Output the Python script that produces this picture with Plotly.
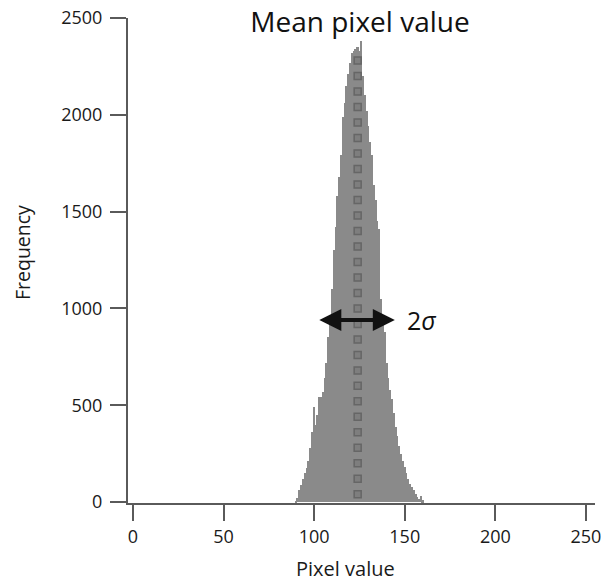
import plotly.graph_objects as go

# Histogram data (pixel value bins, frequency)
pixel_values = list(range(90, 161))
frequency = [
    5, 20, 60, 90, 120, 150, 175, 210, 280, 360,             # 90-99
    490, 400, 450, 545, 545, 570, 640, 720, 850, 960,        # 100-109
    1100, 1300, 1420, 1580, 1680, 1790, 1990, 2060, 2150, 2210,  # 110-119
    2270, 2320, 2330, 2340, 2350, 2330, 2380, 2200, 2100, 2020,  # 120-129
    1940, 1860, 1790, 1640, 1560, 1450, 1410, 1050, 950, 880,    # 130-139
    720, 640, 580, 530, 460, 390, 340, 290, 250, 210,        # 140-149
    180, 150, 120, 95, 78, 60, 40, 25, 15, 30,               # 150-159
    10,                                                      # 160
]

# Column of square markers at the mean
mean_x = 124
mean_marker_y = [40, 120, 200, 280, 360, 440, 520, 600, 680, 760, 840, 920,
                 1000, 1080, 1160, 1240, 1320, 1400, 1480, 1560, 1640, 1720,
                 1800, 1880, 1960, 2040, 2120, 2200, 2280]

# 2-sigma arrow
sigma_left = 102
sigma_right = 144.5
sigma_y = 940

x_ticks = [0, 50, 100, 150, 200, 250]
y_ticks = [0, 500, 1000, 1500, 2000, 2500]

FONT = "Open Sans"
AXIS_COLOR = "#5a5a5a"
TEXT_COLOR = "#1a1a1a"

fig = go.Figure()
fig.add_trace(go.Bar(
    x=pixel_values, y=frequency, width=1,
    marker=dict(color="#8a8a8a", line=dict(width=0)),
    showlegend=False, hoverinfo="skip",
))
fig.add_trace(go.Scatter(
    x=[mean_x] * len(mean_marker_y), y=mean_marker_y, mode="markers",
    marker=dict(symbol="square", size=7, color="#7e7e7e",
                line=dict(color="#666666", width=1.5)),
    showlegend=False, hoverinfo="skip",
))

fig.add_annotation(
    x=sigma_right, y=sigma_y, ax=sigma_left, ay=sigma_y,
    xref="x", yref="y", axref="x", ayref="y",
    text="", showarrow=True, arrowhead=2, startarrowhead=2,
    arrowside="end+start", arrowwidth=4, arrowsize=1.1, startarrowsize=1.1,
    arrowcolor="#111111",
)
fig.add_annotation(
    x=sigma_right + 5.5, y=sigma_y, xref="x", yref="y",
    text="2<i>σ</i>", showarrow=False, xanchor="left", yanchor="middle",
    font=dict(family=FONT, size=25, color="#111111"),
)

# Axis titles as annotations
fig.add_annotation(
    x=(345 - 128) / 467, y=-(568 - 503) / 485, xref="paper", yref="paper",
    text="Pixel value", showarrow=False, xanchor="center", yanchor="middle",
    borderpad=0, font=dict(family=FONT, size=20, color=TEXT_COLOR),
)
fig.add_annotation(
    x=-(128 - 22) / 467, y=(503 - 253) / 485, xref="paper", yref="paper",
    text="Frequency", showarrow=False, textangle=-90,
    xanchor="center", yanchor="middle", borderpad=0,
    font=dict(family=FONT, size=19.5, color=TEXT_COLOR),
)

fig.update_layout(
    width=605, height=582,
    margin=dict(l=128, r=10, t=18, b=79, autoexpand=False),
    paper_bgcolor="white", plot_bgcolor="white",
    bargap=0,
    title=dict(text="Mean pixel value", x=360 / 605, xanchor="center",
               y=1 - 22 / 582, yanchor="middle",
               font=dict(family=FONT, size=28, color="#111111")),
    xaxis=dict(
        range=[-2.76, 255], tickvals=x_ticks, ticks="outside", ticklen=16,
        tickwidth=2, tickcolor=AXIS_COLOR, showline=True, linecolor=AXIS_COLOR,
        linewidth=2, showgrid=False, zeroline=False, automargin=False,
        tickfont=dict(family=FONT, size=18, color=TEXT_COLOR),
    ),
    yaxis=dict(
        range=[-5, 2500], tickvals=y_ticks, ticks="outside", ticklen=16,
        tickwidth=2, tickcolor=AXIS_COLOR, showline=True, linecolor=AXIS_COLOR,
        linewidth=2, showgrid=False, zeroline=False, automargin=False,
        ticklabelstandoff=4,
        tickfont=dict(family=FONT, size=18, color=TEXT_COLOR),
    ),
)

fig.write_html(
    "out.html",
    config={"displayModeBar": False},
    post_script="document.body.style.margin='0px';document.body.style.overflow='hidden';",
)
